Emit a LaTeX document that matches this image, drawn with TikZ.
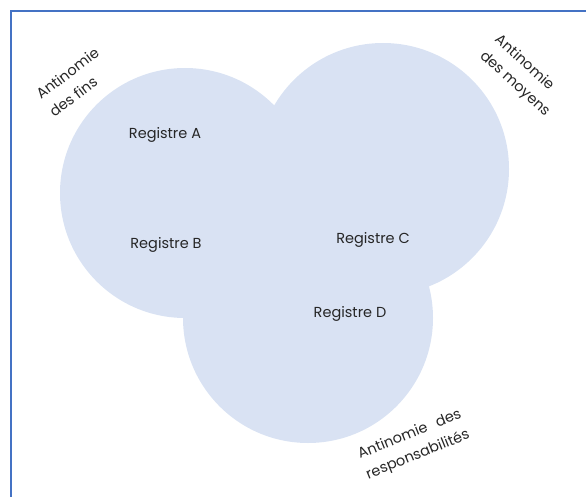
\documentclass[tikz,border=0pt]{standalone}
\usepackage{fontspec}
\usepackage{calc}
\setmainfont{Poppins}
\definecolor{framecol}{HTML}{4472C4}
\definecolor{circfill}{HTML}{D9E2F3}
\definecolor{txtcol}{HTML}{262626}
\begin{document}
\begin{tikzpicture}[x=1pt,y=-1pt,
  regcircle/.style={circle, fill=circfill, draw=none, minimum size=250pt, inner sep=0pt},
  reglabel/.style={font=\fontsize{14.5}{17}\selectfont, text=txtcol, inner sep=0pt},
  antlabel/.style={font=\fontsize{14.5}{22}\selectfont, text=txtcol, inner sep=0pt, align=left}]
\useasboundingbox (0,0) rectangle (586,497);
\begin{scope}
\clip (0,0) rectangle (586,497);
\draw[framecol, line width=2pt] (10.5,11) rectangle (620,540);
\end{scope}
\node[regcircle] (c1) at (185,193) {};
\node[regcircle, minimum size=252pt] (c2) at (383,169) {};
\node[regcircle] (c3) at (308,318) {};
\node[reglabel] (ra) at (165,135) {Registre A};
\node[reglabel] (rb) at (166,245) {Registre B};
\node[reglabel] (rc) at (373,240) {Registre C};
\node[reglabel] (rd) at (350,314) {Registre D};
\node[antlabel, rotate=37] (afins) at (74,82) {Antinomie\\des fins};
\node[antlabel, rotate=-42] (amoy) at (522,76) {Antinomie\\des moyens};
\node[antlabel, rotate=22, align=center] (aresp) at (414,445) {\makebox[\widthof{responsabilités}][s]{Antinomie des}\\responsabilités};
\end{tikzpicture}
\end{document}
